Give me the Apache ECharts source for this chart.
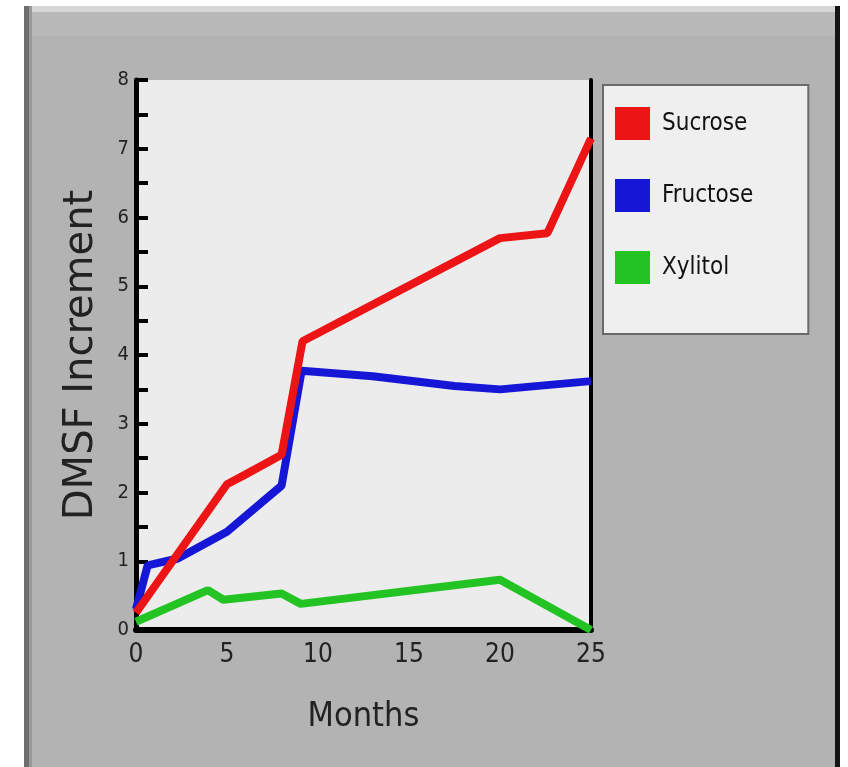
<!DOCTYPE html>
<html>
<head>
<meta charset="utf-8">
<script src="https://cdn.jsdelivr.net/npm/echarts@6/dist/echarts.min.js"></script>
<style>
html,body{margin:0;padding:0;background:#fff;}
#chart{width:848px;height:767px;}
</style>
</head>
<body>
<div id="chart"></div>
<script>
// ---- data ----
var seriesNames = ['Sucrose', 'Fructose', 'Xylitol'];
var sucroseMonths = [0, 5, 6, 8, 9.15, 20, 22.6, 25];
var sucroseValues = [0.25, 2.12, 2.26, 2.55, 4.2, 5.7, 5.77, 7.15];
var fructoseMonths = [0, 0.64, 2.3, 5, 8, 9.1, 13, 17.5, 20, 25];
var fructoseValues = [0.3, 0.94, 1.04, 1.43, 2.1, 3.77, 3.69, 3.55, 3.5, 3.62];
var xylitolMonths = [0, 3.95, 4.8, 8, 9.05, 20, 25];
var xylitolValues = [0.12, 0.58, 0.44, 0.53, 0.38, 0.73, 0];
var xTicks = [0, 5, 10, 15, 20, 25];
var yTicks = [0, 1, 2, 3, 4, 5, 6, 7, 8];

function pairs(xs, ys) { return xs.map(function (x, i) { return [x, ys[i]]; }); }

var narrow = "'Liberation Sans Narrow', 'DejaVu Sans Condensed', sans-serif";
var chart = echarts.init(document.getElementById('chart'), null, {renderer: 'canvas'});
chart.setOption({
  backgroundColor: '#ffffff',
  animation: false,
  graphic: [
    {type: 'rect', z: -10, shape: {x: 24, y: 6, width: 811, height: 761}, style: {fill: '#b3b3b3'}},
    {type: 'rect', z: -9, shape: {x: 24, y: 12, width: 811, height: 24}, style: {fill: '#b9b9b9'}},
    {type: 'rect', z: -9, shape: {x: 24, y: 6, width: 811, height: 6}, style: {fill: '#d6d6d6'}},
    {type: 'rect', z: -9, shape: {x: 24, y: 6, width: 5, height: 761}, style: {fill: '#6e6e6e'}},
    {type: 'rect', z: -9, shape: {x: 29, y: 6, width: 3, height: 761}, style: {fill: '#9a9a9a'}},
    {type: 'rect', z: -9, shape: {x: 835, y: 6, width: 5, height: 761}, style: {fill: '#151515'}}
  ],
  grid: {
    left: 136, right: 257, top: 80, bottom: 137,
    show: true, backgroundColor: '#ececec', borderWidth: 0
  },
  legend: {
    orient: 'vertical',
    left: 603, top: 85,
    data: seriesNames,
    icon: 'rect',
    itemWidth: 35, itemHeight: 33, itemGap: 39,
    padding: [22, 55, 50, 12],
    backgroundColor: '#efefef',
    borderColor: '#6a6a6a', borderWidth: 2,
    textStyle: {fontFamily: narrow, fontSize: 24, color: '#111', padding: [0, 0, 0, 7]}
  },
  xAxis: {
    type: 'value', min: xTicks[0], max: xTicks[xTicks.length - 1], interval: 5,
    name: 'Months', nameLocation: 'middle', nameGap: 70,
    nameTextStyle: {fontFamily: narrow, fontSize: 34, color: '#222'},
    axisLine: {show: true, lineStyle: {color: '#000', width: 6}},
    axisTick: {show: false},
    splitLine: {show: false},
    axisLabel: {fontFamily: narrow, fontSize: 26, color: '#222', margin: 12}
  },
  yAxis: [{
    type: 'value', min: yTicks[0], max: yTicks[yTicks.length - 1], interval: 1,
    name: 'DMSF Increment', nameLocation: 'middle', nameGap: 34,
    nameTextStyle: {fontFamily: "'DejaVu Sans', sans-serif", fontSize: 40, color: '#222'},
    axisLine: {show: true, lineStyle: {color: '#000', width: 5}},
    axisTick: {show: true, inside: true, length: 12, lineStyle: {color: '#000', width: 4}},
    minorTick: {show: true, splitNumber: 2, length: 12, lineStyle: {color: '#000', width: 4}},
    splitLine: {show: false},
    axisLabel: {fontFamily: narrow, fontSize: 20, color: '#222', margin: 7}
  }, {
    type: 'value', position: 'right', min: 0, max: 8,
    axisLine: {show: true, lineStyle: {color: '#000', width: 4}},
    axisTick: {show: false}, axisLabel: {show: false}, splitLine: {show: false}
  }],
  series: [
    {name: 'Xylitol', type: 'line', data: pairs(xylitolMonths, xylitolValues), symbol: 'none',
     color: '#22c322', lineStyle: {width: 8, color: '#22c322'}},
    {name: 'Fructose', type: 'line', data: pairs(fructoseMonths, fructoseValues), symbol: 'none',
     color: '#1616d6', lineStyle: {width: 8, color: '#1616d6'}},
    {name: 'Sucrose', type: 'line', data: pairs(sucroseMonths, sucroseValues), symbol: 'none',
     color: '#ec1414', lineStyle: {width: 8, color: '#ec1414'}}
  ]
});
</script>
</body>
</html>
